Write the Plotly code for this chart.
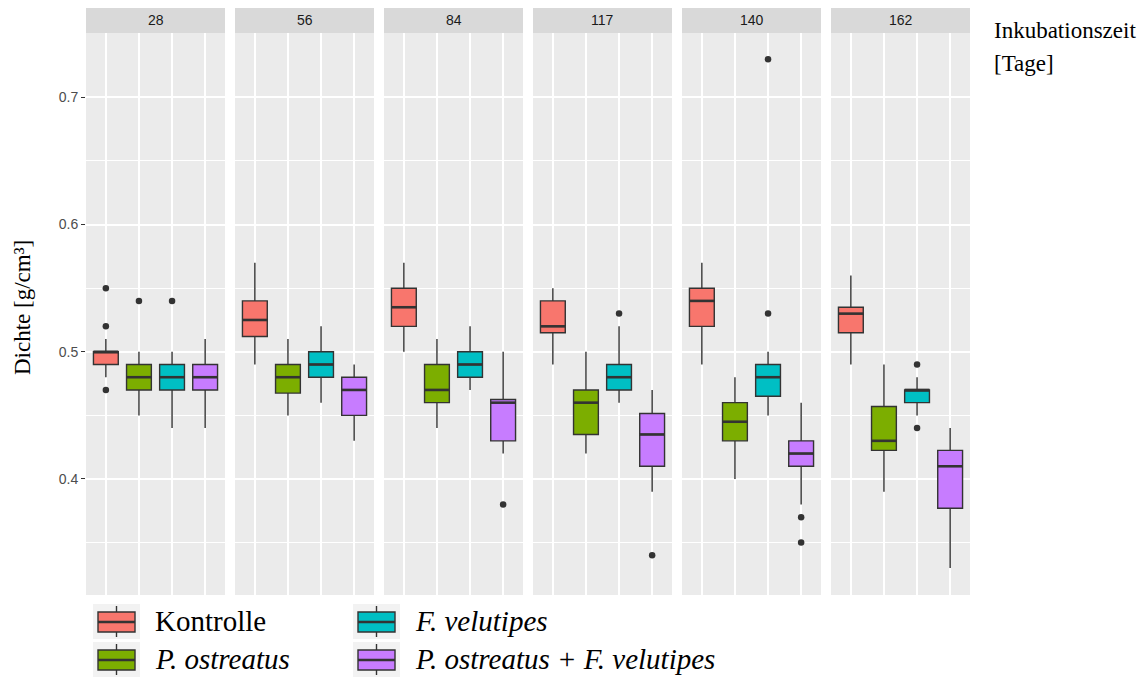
import plotly.graph_objects as go

# ---------------- data ----------------
days = ["28", "56", "84", "117", "140", "162"]
groups = ["Kontrolle", "P. ostreatus", "F. velutipes", "P. ostreatus + F. velutipes"]
legend_labels = ["Kontrolle", "<i>P. ostreatus</i>", "<i>F. velutipes</i>",
                 "<i>P. ostreatus + F. velutipes</i>"]
colors = ["#F8766D", "#7CAE00", "#00BFC4", "#C77CFF"]

# one inner list per day (28 ... 162), four groups each
lower_vals = [[0.48, 0.45, 0.44, 0.44],
              [0.49, 0.45, 0.46, 0.43],
              [0.50, 0.44, 0.47, 0.42],
              [0.49, 0.42, 0.46, 0.39],
              [0.49, 0.40, 0.45, 0.38],
              [0.49, 0.39, 0.45, 0.33]]
q1_vals = [[0.49, 0.47, 0.47, 0.47],
           [0.512, 0.4675, 0.48, 0.45],
           [0.52, 0.46, 0.48, 0.43],
           [0.515, 0.435, 0.47, 0.41],
           [0.52, 0.43, 0.465, 0.41],
           [0.515, 0.4225, 0.46, 0.377]]
median_vals = [[0.50, 0.48, 0.48, 0.48],
               [0.525, 0.48, 0.49, 0.47],
               [0.535, 0.47, 0.49, 0.46],
               [0.52, 0.46, 0.48, 0.435],
               [0.54, 0.445, 0.48, 0.42],
               [0.53, 0.43, 0.47, 0.41]]
q3_vals = [[0.50, 0.49, 0.49, 0.49],
           [0.54, 0.49, 0.50, 0.48],
           [0.55, 0.49, 0.50, 0.4625],
           [0.54, 0.47, 0.49, 0.4515],
           [0.55, 0.46, 0.49, 0.43],
           [0.535, 0.457, 0.47, 0.4225]]
upper_vals = [[0.51, 0.50, 0.50, 0.51],
              [0.57, 0.51, 0.52, 0.49],
              [0.57, 0.51, 0.52, 0.50],
              [0.55, 0.50, 0.52, 0.47],
              [0.57, 0.48, 0.50, 0.46],
              [0.56, 0.49, 0.48, 0.44]]

outlier_day = [0, 0, 0, 0, 0, 2, 3, 3, 4, 4, 4, 4, 5, 5]
outlier_group = [0, 0, 0, 1, 2, 3, 2, 3, 2, 2, 3, 3, 2, 2]
outlier_value = [0.55, 0.52, 0.47, 0.54, 0.54, 0.38, 0.53, 0.34,
                 0.73, 0.53, 0.37, 0.35, 0.49, 0.44]

# ---------------- layout geometry ----------------
W, H = 1145, 677
L, R, T, B = 86, 175, 33, 82
plot_w = W - L - R
plot_h = H - T - B
panel_w = 139
gap = 10
box_w = 0.75
y_range = [0.3088, 0.7506]


def px(x):
    return (x - L) / plot_w


def py(y):
    return (T + plot_h - y) / plot_h


fig = go.Figure()

for d in range(len(days)):
    xa = "x" if d == 0 else f"x{d+1}"
    for g in range(len(groups)):
        pos = g + 1
        fig.add_trace(go.Box(
            x=[pos], q1=[q1_vals[d][g]], median=[median_vals[d][g]], q3=[q3_vals[d][g]],
            lowerfence=[lower_vals[d][g]], upperfence=[upper_vals[d][g]],
            width=box_w, whiskerwidth=0, boxpoints=False,
            fillcolor=colors[g], line=dict(color="#333333", width=1.4),
            name=groups[g], showlegend=False, xaxis=xa, yaxis="y", hoverinfo="skip"))
        # thicker median line (ggplot style)
        fig.add_trace(go.Scatter(
            x=[pos - box_w / 2, pos + box_w / 2],
            y=[median_vals[d][g], median_vals[d][g]],
            mode="lines", line=dict(color="#333333", width=2.6),
            showlegend=False, xaxis=xa, yaxis="y", hoverinfo="skip"))
    ox = [outlier_group[k] + 1 for k in range(len(outlier_value)) if outlier_day[k] == d]
    oy = [outlier_value[k] for k in range(len(outlier_value)) if outlier_day[k] == d]
    if ox:
        fig.add_trace(go.Scatter(
            x=ox, y=oy, mode="markers",
            marker=dict(color="#333333", size=6.5),
            showlegend=False, xaxis=xa, yaxis="y", hoverinfo="skip"))

layout = dict(
    width=W, height=H,
    margin=dict(l=L, r=R, t=T, b=B),
    paper_bgcolor="white", plot_bgcolor="#EBEBEB",
    showlegend=False,
    yaxis=dict(range=y_range, dtick=0.1, tick0=0, tickformat=".1f",
               showgrid=True, gridcolor="white", gridwidth=1.5,
               zeroline=False, ticks="outside", ticklen=4, tickcolor="#333333",
               tickwidth=1, tickfont=dict(family="Liberation Sans", size=14, color="#4D4D4D"),
               minor=dict(dtick=0.05, showgrid=True, gridcolor="white", gridwidth=0.8),
               showline=False),
)

shapes = []
annotations = []
for d in range(len(days)):
    key = "xaxis" if d == 0 else f"xaxis{d+1}"
    x0 = d * (panel_w + gap) / plot_w
    x1 = (d * (panel_w + gap) + panel_w) / plot_w
    layout[key] = dict(domain=[x0, x1], range=[0.4, 4.6], anchor="y",
                       tickvals=[1, 2, 3, 4], showticklabels=False, ticks="",
                       showgrid=True, gridcolor="white", gridwidth=1.5,
                       zeroline=False, showline=False)
    ref = "x domain" if d == 0 else f"x{d+1} domain"
    shapes.append(dict(type="rect", xref=ref, yref="paper", x0=0, x1=1,
                       y0=1.0, y1=1 + 25 / plot_h, fillcolor="#D9D9D9",
                       line=dict(width=0), layer="below"))
    annotations.append(dict(text=days[d], xref=ref, yref="paper", x=0.5,
                            y=1 + 12.5 / plot_h, showarrow=False,
                            xanchor="center", yanchor="middle",
                            font=dict(family="Liberation Sans", size=14, color="#1A1A1A")))

# ---------------- legend (ggplot-style keys, two columns) ----------------
leg_cols_x = [93, 353]          # left edge of key background
leg_rows_y = [604, 642]         # top edge of key background
key_w, key_h = 47, 35
for g in range(len(groups)):
    col, row = g // 2, g % 2
    kx, ky = leg_cols_x[col], leg_rows_y[row]
    cx = kx + key_w / 2
    shapes.append(dict(type="rect", xref="paper", yref="paper",
                       x0=px(kx), x1=px(kx + key_w), y0=py(ky + key_h), y1=py(ky),
                       fillcolor="#F2F2F2", line=dict(width=0)))
    shapes.append(dict(type="line", xref="paper", yref="paper",
                       x0=px(cx), x1=px(cx), y0=py(ky + 2), y1=py(ky + key_h - 2),
                       line=dict(color="#333333", width=1.4)))
    shapes.append(dict(type="rect", xref="paper", yref="paper",
                       x0=px(kx + 5), x1=px(kx + key_w - 5), y0=py(ky + 28), y1=py(ky + 8),
                       fillcolor=colors[g], line=dict(color="#333333", width=1.4)))
    shapes.append(dict(type="line", xref="paper", yref="paper",
                       x0=px(kx + 5), x1=px(kx + key_w - 5), y0=py(ky + 18), y1=py(ky + 18),
                       line=dict(color="#333333", width=2.4)))
    annotations.append(dict(text=legend_labels[g], xref="paper", yref="paper",
                            x=px(kx + key_w + 13), y=py(ky + 17),
                            showarrow=False, xanchor="left", yanchor="middle",
                            font=dict(family="Liberation Serif", size=29, color="black")))

annotations.append(dict(text="Dichte [g/cm³]", xref="paper", yref="paper",
                        x=px(22), y=py(308),
                        textangle=-90, showarrow=False, xanchor="center", yanchor="middle",
                        font=dict(family="Liberation Serif", size=23, color="black")))
annotations.append(dict(text="Inkubationszeit", xref="paper", yref="paper",
                        x=px(992), y=py(30),
                        showarrow=False, xanchor="left", yanchor="middle",
                        font=dict(family="Liberation Serif", size=23, color="black")))
annotations.append(dict(text="[Tage]", xref="paper", yref="paper",
                        x=px(992), y=py(63),
                        showarrow=False, xanchor="left", yanchor="middle",
                        font=dict(family="Liberation Serif", size=23, color="black")))

layout["shapes"] = shapes
layout["annotations"] = annotations
fig.update_layout(**layout)

fig.write_html("out.html")
